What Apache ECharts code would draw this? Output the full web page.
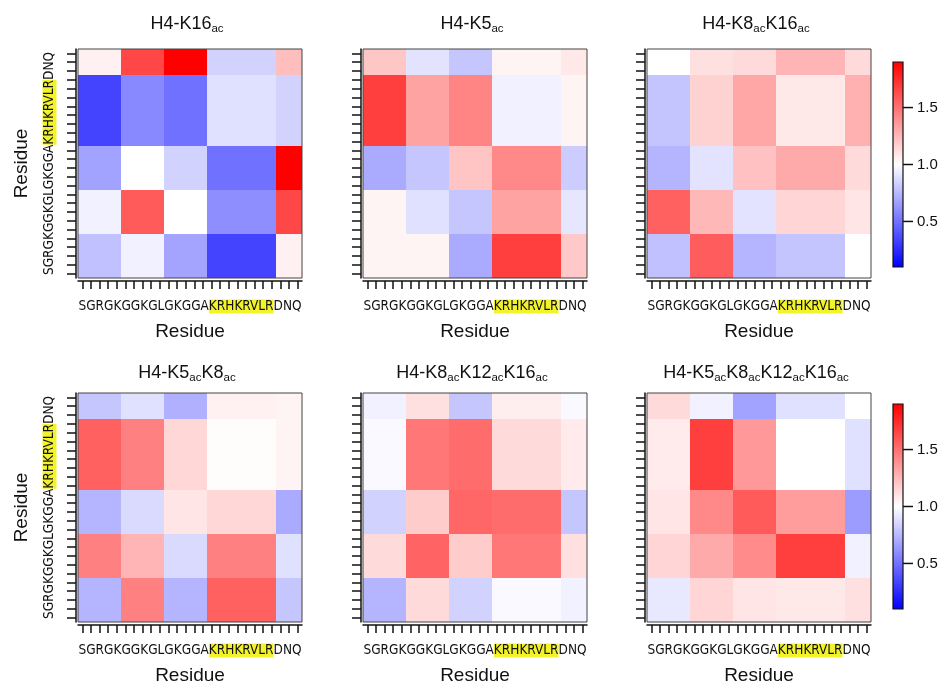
<!DOCTYPE html>
<html>
<head>
<meta charset="utf-8">
<script src="https://cdn.jsdelivr.net/npm/echarts@6/dist/echarts.min.js"></script>
<style>
  html, body, #main { width: 100%; height: 100%; margin: 0; background: #fff; }
</style>
</head>
<body>
<div id="main"></div>
<script>
var residues = ['S','G','R','G','K','G','G','K','G','L','G','K','G','G','A','K','R','H','K','R','V','L','R','D','N','Q'];
var blockSizes = [5, 5, 5, 8, 3];
var highlightBlock = 3;

var panelNames = ['H4-K16ac', 'H4-K5ac', 'H4-K8acK16ac', 'H4-K5acK8ac', 'H4-K8acK12acK16ac', 'H4-K5acK8acK12acK16ac'];

// rows go from the bottom block (SGRGK) up to DNQ, columns left to right
var k16 = [
  [0.78, 0.95, 0.68, 0.34, 1.05],
  [0.95, 1.58, 1.00, 0.60, 1.65],
  [0.67, 1.00, 0.84, 0.50, 1.90],
  [0.34, 0.58, 0.50, 0.89, 0.84],
  [1.05, 1.65, 1.90, 0.84, 1.23]
];
var k5 = [
  [1.04, 1.04, 0.70, 1.68, 1.19],
  [1.04, 0.89, 0.80, 1.33, 0.91],
  [0.70, 0.80, 1.21, 1.42, 0.82],
  [1.68, 1.33, 1.43, 0.95, 1.04],
  [1.20, 0.90, 0.80, 1.04, 1.08]
];
var k8k16 = [
  [0.78, 1.57, 0.74, 0.79, 1.00],
  [1.56, 1.25, 0.90, 1.15, 1.09],
  [0.74, 0.90, 1.22, 1.30, 1.13],
  [0.79, 1.16, 1.31, 1.08, 1.28],
  [1.00, 1.11, 1.13, 1.26, 1.13]
];
var k5k8 = [
  [0.74, 1.45, 0.74, 1.56, 0.80],
  [1.45, 1.26, 0.87, 1.45, 0.89],
  [0.74, 0.87, 1.09, 1.14, 0.70],
  [1.56, 1.45, 1.14, 1.01, 1.04],
  [0.80, 0.89, 0.72, 1.05, 1.04]
];
var k8k12k16 = [
  [0.74, 1.13, 0.84, 0.98, 0.95],
  [1.13, 1.55, 1.18, 1.48, 1.11],
  [0.84, 1.18, 1.54, 1.52, 0.80],
  [0.98, 1.48, 1.52, 1.13, 1.07],
  [0.95, 1.11, 0.80, 1.06, 0.98]
];
var k5k8k12k16 = [
  [0.92, 1.15, 1.09, 1.08, 1.11],
  [1.15, 1.30, 1.41, 1.68, 0.95],
  [1.09, 1.42, 1.58, 1.35, 0.65],
  [1.07, 1.68, 1.36, 1.00, 0.89],
  [1.13, 0.95, 0.67, 0.89, 1.00]
];
var matrices = [k16, k5, k8k16, k5k8, k8k12k16, k5k8k12k16];

var colorMin = 0.1;
var colorMax = 1.9;
var colorMid = 1.0;
var colorTicks = [0.5, 1.0, 1.5];

// block start positions (residue index)
var blockStart = [];
var acc = 0;
blockSizes.forEach(function (n) { blockStart.push(acc); acc += n; });

var seqBefore = residues.slice(0, blockStart[highlightBlock]).join('');
var seqHigh = residues.slice(blockStart[highlightBlock], blockStart[highlightBlock] + blockSizes[highlightBlock]).join('');
var seqAfter = residues.slice(blockStart[highlightBlock] + blockSizes[highlightBlock]).join('');
var seqLabel = '{n|' + seqBefore + '}{h|' + seqHigh + '}{n|' + seqAfter + '}';

var SEQ_FONT = '"Liberation Sans Narrow", "DejaVu Sans Condensed", "Liberation Sans", sans-serif';
var FONT = '"Liberation Sans", Arial, Helvetica, sans-serif';
var seqRich = {
  n: { fontFamily: SEQ_FONT, fontSize: 13.5, color: '#111', lineHeight: 15 },
  h: { fontFamily: SEQ_FONT, fontSize: 13.5, color: '#111', lineHeight: 15, backgroundColor: '#f3f32c' }
};

var gridLefts = [78, 363, 647];
var gridTops = [49, 393];
var gridW = 224, gridH = 229;

var chart = echarts.init(document.getElementById('main'));

var grids = [], xAxes = [], yAxes = [], series = [], titles = [];

function titleText(name) {
  return '{m|' + name.replace(/ac/g, '}{s|ac}{m|') + '}';
}

var tickStyle = { color: '#111', width: 1.5 };

for (var p = 0; p < 6; p++) {
  var col = p % 3, row = Math.floor(p / 3);
  grids.push({
    left: gridLefts[col], top: gridTops[row], width: gridW, height: gridH,
    show: true, borderColor: '#444', borderWidth: 1, z: 5
  });
  xAxes.push({
    type: 'category', gridIndex: p, data: residues, position: 'bottom', offset: 3,
    axisLine: { show: true, lineStyle: tickStyle },
    axisTick: { show: true, alignWithLabel: true, length: 8, interval: 0, lineStyle: tickStyle },
    axisLabel: { show: false },
    name: seqLabel, nameLocation: 'middle', nameGap: 18,
    nameTextStyle: { rich: seqRich }
  });
  xAxes.push({
    type: 'category', gridIndex: p, data: residues, position: 'bottom',
    axisLine: { show: false }, axisTick: { show: false }, axisLabel: { show: false },
    name: 'Residue', nameLocation: 'middle', nameGap: 44,
    nameTextStyle: { fontFamily: FONT, fontSize: 19, color: '#111' }
  });
  yAxes.push({
    type: 'category', gridIndex: p, data: residues, position: 'left', offset: 2,
    axisLine: { show: true, lineStyle: tickStyle },
    axisTick: { show: true, alignWithLabel: true, length: 9, interval: 0, lineStyle: tickStyle },
    axisLabel: { show: false },
    name: col === 0 ? seqLabel : '', nameLocation: 'middle', nameGap: 19,
    nameTextStyle: { rich: seqRich }
  });
  yAxes.push({
    type: 'category', gridIndex: p, data: residues, position: 'left',
    axisLine: { show: false }, axisTick: { show: false }, axisLabel: { show: false },
    name: col === 0 ? 'Residue' : '', nameLocation: 'middle', nameGap: 47,
    nameTextStyle: { fontFamily: FONT, fontSize: 19, color: '#111' }
  });

  var data = [];
  matrices[p].forEach(function (r, j) {
    r.forEach(function (v, i) { data.push([i, j, v]); });
  });
  series.push({
    type: 'custom', xAxisIndex: 2 * p, yAxisIndex: 2 * p,
    data: data, encode: { x: 0, y: 1 },
    renderItem: function (params, api) {
      var bi = api.value(0), bj = api.value(1);
      var p0 = api.coord([blockStart[bi], blockStart[bj]]);
      var p1 = api.coord([blockStart[bi] + blockSizes[bi] - 1, blockStart[bj] + blockSizes[bj] - 1]);
      var band = api.size([1, 1]);
      var x0 = Math.round(p0[0] - band[0] / 2), x1 = Math.round(p1[0] + band[0] / 2);
      var y0 = Math.round(p1[1] - band[1] / 2), y1 = Math.round(p0[1] + band[1] / 2);
      return {
        type: 'rect',
        shape: { x: x0, y: y0, width: x1 - x0, height: y1 - y0 },
        style: { fill: api.visual('color') }
      };
    }
  });

  titles.push({
    text: titleText(panelNames[p]),
    left: gridLefts[col] + gridW / 2 - 3, top: row === 0 ? 15 : 364, textAlign: 'center',
    padding: 0,
    textStyle: {
      fontWeight: 'normal',
      rich: {
        m: { fontFamily: FONT, fontSize: 18, fontWeight: 'normal', color: '#111', lineHeight: 20, verticalAlign: 'top' },
        s: { fontFamily: FONT, fontSize: 11.5, fontWeight: 'normal', color: '#111', lineHeight: 12, verticalAlign: 'top', padding: [8, 0, 0, 0] }
      }
    }
  });
}

// colour bars
var barTops = [62, 404];
var midOffset = (colorMax - colorMid) / (colorMax - colorMin);
for (var b = 0; b < 2; b++) {
  var gi = 6 + b;
  grids.push({ left: 893, top: barTops[b], width: 10, height: 205, show: true, borderColor: '#111', borderWidth: 1.2, z: 5 });
  xAxes.push({ type: 'value', gridIndex: gi, min: 0, max: 1, show: false });
  yAxes.push({
    type: 'value', gridIndex: gi, min: colorMin, max: colorMax, position: 'right',
    axisLine: { show: false },
    splitLine: { show: false },
    axisTick: { show: false },
    axisLabel: {
      show: true, margin: 14, customValues: colorTicks,
      fontFamily: FONT, fontSize: 15, color: '#111',
      formatter: function (v) { return v.toFixed(1); }
    }
  });
  series.push({
    type: 'custom', xAxisIndex: 12 + b, yAxisIndex: 12 + b,
    data: [[0, colorMin, colorMax]],
    renderItem: function (params, api) {
      var top = api.coord([0, api.value(2)]);
      var bot = api.coord([1, api.value(1)]);
      return {
        type: 'rect',
        shape: { x: top[0], y: top[1], width: bot[0] - top[0], height: bot[1] - top[1] },
        style: {
          fill: new echarts.graphic.LinearGradient(0, 0, 0, 1, [
            { offset: 0, color: '#ff0000' },
            { offset: midOffset, color: '#ffffff' },
            { offset: 1, color: '#0000ff' }
          ])
        }
      };
    }
  });
  // tick marks of the colour bar
  series.push({
    type: 'scatter', xAxisIndex: 12 + b, yAxisIndex: 12 + b,
    clip: false, z: 10, silent: true,
    symbol: 'rect', symbolSize: [10, 1.5], symbolOffset: [5, 0],
    itemStyle: { color: '#111', opacity: 1 },
    data: colorTicks.map(function (t) { return [1, t]; })
  });
}

chart.setOption({
  backgroundColor: '#fff',
  animation: false,
  title: titles,
  grid: grids,
  xAxis: xAxes,
  yAxis: yAxes,
  visualMap: {
    type: 'continuous', show: false, seriesIndex: [0, 1, 2, 3, 4, 5], dimension: 2,
    min: colorMin, max: colorMax,
    inRange: { color: ['#0000ff', '#ffffff', '#ff0000'] }
  },
  series: series
});
</script>
</body>
</html>
